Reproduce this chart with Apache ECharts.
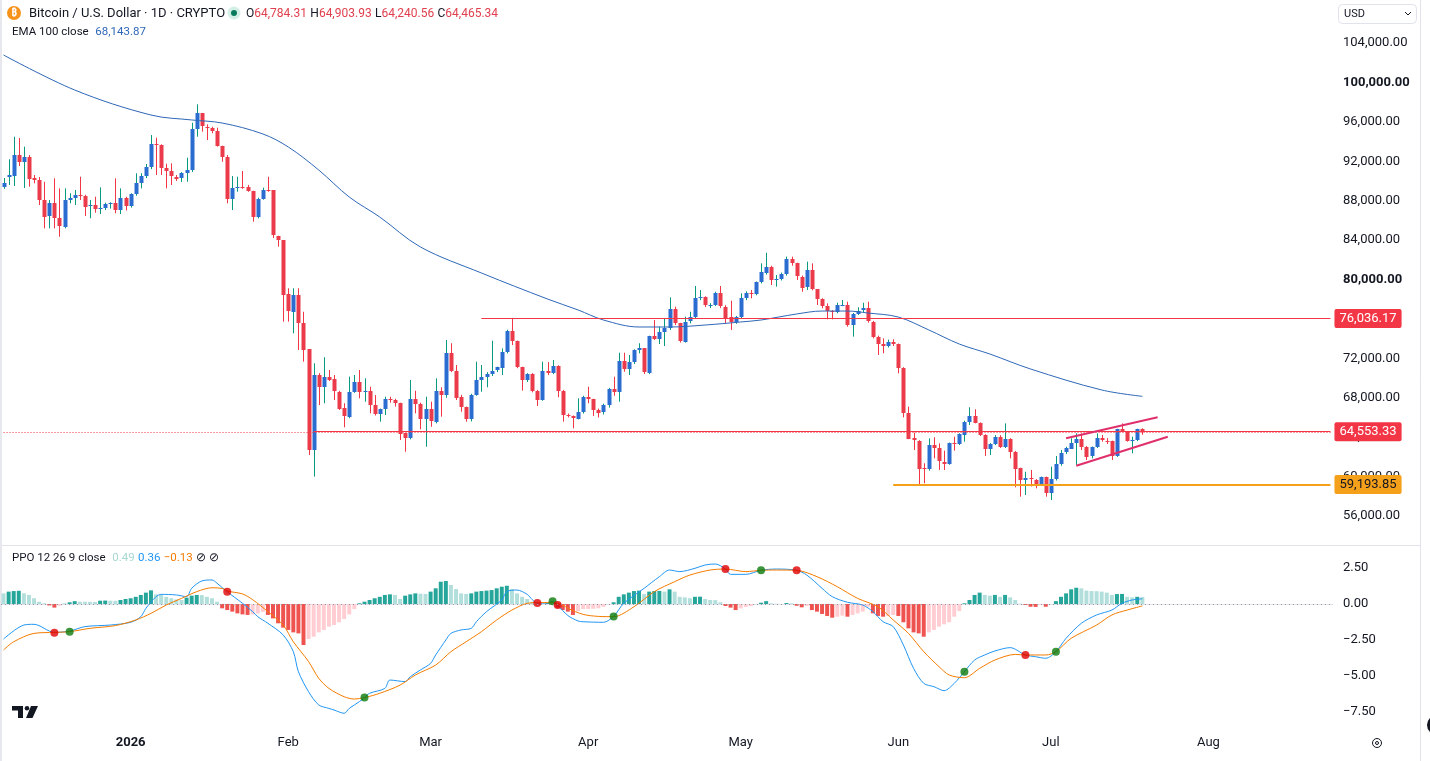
<!DOCTYPE html>
<html>
<head>
<meta charset="utf-8">
<title>BTCUSD 1D</title>
<script src="https://cdn.jsdelivr.net/npm/echarts@6/dist/echarts.min.js"></script>
<style>
  html, body { margin: 0; padding: 0; background: #fff; }
  #chart { width: 1430px; height: 761px; }
</style>
</head>
<body>
<div id="chart"></div>
<script>
// BTC/USD daily candles, 7 Dec 2025 .. 19 Jul 2026
const startDay = [2025, 11, 7]
const dayCount = 262 // candles + empty room to the right

// [open, high, low, close]
const ohlc = [
  [89400, 90300, 89200, 89800], [90370, 92200, 89590, 90600], [90500, 94490, 89490, 92630], [92630, 94360, 91520, 91950], [91950, 93480, 89290, 92460],
  [92460, 92630, 89420, 90270], [90270, 90600, 89760, 90100], [90100, 90400, 87560, 88070], [88070, 89920, 85190, 86370], [86370, 88070, 85190, 87730],
  [87730, 90270, 85190, 86210], [86210, 89250, 84340, 85360], [85360, 89250, 85190, 88070], [88070, 88750, 87730, 88300], [88300, 89080, 87560, 88570],
  [88570, 90430, 88070, 88500], [88500, 88600, 86440, 87390], [87390, 88070, 86210, 87530], [87530, 88400, 86780, 87120], [87120, 89350, 86640, 87250],
  [87250, 87800, 87050, 87660], [87660, 87840, 87200, 87800], [87800, 90270, 86720, 87050], [87050, 89250, 86640, 88240], [88240, 88400, 87000, 87460],
  [87460, 88750, 87300, 88640], [88640, 90780, 88500, 89760], [89760, 90780, 89250, 90500], [90500, 91720, 90300, 91390], [91390, 94660, 91200, 93720],
  [93720, 94390, 90600, 93600], [93600, 93720, 90600, 91280], [91280, 91750, 89250, 90980], [90980, 91790, 89590, 90430], [90430, 90600, 90000, 90270],
  [90270, 90900, 89900, 90780], [90780, 92360, 89920, 91110], [91110, 95910, 90900, 95240], [95240, 97780, 94490, 96870], [96870, 96870, 95000, 95510],
  [95510, 95750, 94150, 95400], [95400, 95500, 94840, 95070], [95070, 95400, 93480, 93580], [93580, 93580, 91950, 92460], [92460, 92630, 87730, 88240],
  [88240, 90500, 87050, 89320], [89320, 90430, 88910, 89420], [89420, 91010, 89200, 89400], [89400, 89600, 88900, 89010], [89010, 89010, 85870, 86370],
  [86370, 88300, 86200, 88170], [88170, 89320, 88100, 89080], [89080, 90430, 88900, 89050], [89050, 89050, 84200, 84440], [84440, 84440, 83330, 84010],
  [84010, 84010, 75720, 78430], [78500, 79110, 75720, 76730], [76730, 79110, 74540, 78430], [78430, 79110, 72840, 75550], [75550, 76730, 71660, 72840],
  [72940, 72940, 62190, 62700], [62700, 71500, 60000, 70310], [70310, 70500, 67260, 69120], [69120, 72110, 67440, 70140], [70140, 70820, 69700, 69870],
  [69870, 70310, 67770, 68610], [68610, 68700, 66760, 66930], [66930, 67440, 65000, 66080], [66080, 70140, 65920, 68610], [68610, 70310, 68500, 69630],
  [69630, 70820, 67940, 68610], [68610, 69970, 67600, 68700], [68700, 69120, 66420, 67260], [67260, 68270, 66200, 66320], [66320, 66900, 65570, 66830],
  [66830, 68110, 66250, 67840], [67840, 68100, 67500, 67800], [67800, 67900, 67100, 67500], [67500, 67500, 63710, 64390], [64390, 64390, 62520, 63880],
  [63880, 69800, 63780, 67840], [67840, 68710, 66420, 67330], [67330, 67500, 64800, 65810], [65810, 68110, 63030, 66830], [66830, 67600, 65060, 65570],
  [65570, 69970, 65400, 68720], [68720, 69060, 66080, 68270], [68270, 73860, 68000, 72570], [72570, 73530, 70600, 70740], [70740, 71320, 67770, 68050],
  [68050, 68300, 66580, 67030], [67030, 67100, 65570, 65810], [65810, 68400, 65600, 68270], [68270, 71660, 68200, 69800], [69800, 71320, 68610, 70070],
  [70070, 70600, 69060, 70410], [70410, 73790, 70210, 70740], [70740, 71150, 70600, 71090], [71090, 73010, 70310, 72670], [72670, 74900, 72500, 74770],
  [74770, 76036, 73350, 73790], [73790, 73800, 71000, 71150], [71150, 71150, 68720, 69800], [69800, 70500, 69600, 70410], [70410, 70500, 68550, 68720],
  [68720, 68800, 67160, 67770], [67770, 71660, 67700, 70710], [70710, 71620, 70300, 70480], [70480, 71830, 70400, 71220], [71220, 71300, 68050, 68720],
  [68720, 68800, 65570, 66250], [66250, 66400, 66000, 66150], [66150, 66200, 64900, 65920], [65920, 67940, 65800, 66580], [66580, 68200, 66400, 68110],
  [68110, 69120, 67440, 67870], [67870, 67900, 66150, 66760], [66760, 66900, 66000, 66500], [66500, 67400, 66300, 67260], [67260, 69000, 67000, 68890],
  [68890, 70140, 68200, 68610], [68610, 72570, 67600, 71760], [71760, 72570, 70640, 70920], [70920, 72340, 70310, 71600], [71600, 72920, 71420, 72840],
  [72840, 73530, 72510, 73000], [73000, 73010, 70410, 70540], [70540, 74300, 70400, 74270], [74270, 75890, 73860, 73960], [73960, 75210, 73450, 74640],
  [74640, 76060, 73250, 75050], [75050, 78190, 74880, 77010], [77010, 77240, 75380, 75550], [75550, 75600, 73600, 73690], [73690, 76230, 73600, 75720],
  [75720, 76730, 75550, 76160], [76160, 79340, 75990, 78090], [78090, 78930, 77900, 78190], [78190, 78300, 77200, 77340], [77340, 77600, 77100, 77400],
  [77400, 78760, 77300, 78600], [78600, 79340, 77100, 77240], [77240, 77400, 75550, 76160], [76160, 77850, 74880, 75620], [75620, 76300, 75500, 76160],
  [76160, 78600, 76000, 78090], [78090, 78800, 77900, 78600], [78600, 78930, 78090, 78500], [78500, 79800, 78400, 79720], [79720, 81640, 79600, 80730],
  [80730, 82720, 80500, 81300], [81300, 81400, 79440, 79950], [79950, 80460, 79270, 80020], [80020, 80700, 79900, 80560], [80560, 82320, 80400, 82080],
  [82080, 82320, 81400, 81640], [81640, 81700, 79950, 80290], [80290, 80400, 78760, 79210], [79210, 81810, 78930, 80960], [80960, 81640, 78900, 79000],
  [79000, 79000, 77410, 78020], [78020, 78100, 77080, 77340], [77340, 77580, 75960, 76800], [76800, 76900, 75960, 76700], [76700, 77640, 76570, 77410],
  [77410, 77920, 77300, 77450], [77450, 77750, 75210, 75380], [75380, 76600, 74200, 76500], [76500, 77180, 76400, 76830], [76830, 77640, 76700, 77080],
  [77080, 77750, 75620, 75720], [75720, 75800, 74030, 74200], [74200, 74300, 72340, 73450], [73450, 74030, 72510, 73250], [73250, 73900, 73100, 73690],
  [73690, 73930, 73250, 73450], [73450, 73500, 70480, 71000], [71000, 71100, 66010, 66480], [66480, 67100, 63800, 63880], [63880, 64460, 62700, 63640],
  [63640, 63700, 59040, 60840], [60840, 61350, 59320, 60740], [60740, 63880, 60600, 63210], [63210, 63990, 61850, 62870], [62870, 63370, 60670, 61510],
  [61510, 62630, 60670, 61280], [61280, 63450, 61200, 63370], [63370, 64050, 62630, 63300], [63300, 64400, 63200, 64290], [64290, 65670, 63540, 65570],
  [65570, 67030, 65230, 66150], [66150, 66830, 65400, 65470], [65470, 65500, 64120, 64220], [64220, 64300, 62090, 62770], [62770, 63400, 62190, 63310],
  [63310, 64200, 63200, 64050], [64050, 64200, 62900, 63030], [63030, 65400, 62900, 63810], [63810, 63900, 61850, 62520], [62520, 62600, 58910, 60840],
  [60840, 60900, 57960, 59580], [59580, 60490, 58130, 59820], [59820, 60670, 59000, 59700], [59700, 59750, 58810, 59320], [59320, 60000, 59200, 59990],
  [59990, 60000, 57960, 58360], [58360, 61010, 57630, 59750], [59750, 62090, 59600, 61280], [61280, 62700, 61100, 62420], [62420, 63030, 62300, 62870],
  [62870, 63880, 62800, 63440], [63440, 64390, 61180, 63810], [63810, 64390, 62700, 63030], [63030, 63100, 61680, 62020], [62020, 63050, 61850, 62970],
  [62970, 64390, 62900, 63880], [63880, 64220, 63540, 63640], [63640, 63900, 63300, 63600], [63600, 63650, 61680, 62090], [62090, 64850, 62000, 64800],
  [64800, 65400, 64500, 64560], [64560, 64600, 63540, 63640], [63640, 64050, 62360, 63700], [63700, 64850, 63600, 64780], [64784.31, 64903.93, 64240.56, 64465.34]
]

// EMA 100, sampled along the drawn curve: [day index, value]
const ema100 = [
  [0, 102780], [14, 99230], [29, 96690], [37, 96190], [43, 95880], [51, 94770], [56, 93450], [62, 91110],
  [68, 88370], [74, 86340], [82, 83300], [94, 80660], [107, 78020], [113, 76910], [118, 75890], [125, 75180],
  [131, 75180], [138, 75380], [145, 75690], [149, 75890], [156, 76500], [161, 76800], [166, 76800], [170, 76600],
  [176, 76190], [182, 74880], [188, 73450], [194, 72440], [202, 70920], [216, 68790], [224, 68143.87]
]

// PPO 12 26 9 histogram, one bar per candle
const ppoHist = [
  0.74, 0.86, 0.9, 0.92, 0.74, 0.63, 0.4, 0.16, 0.05, -0.1,
  -0.25, -0.12, 0.02, 0.12, 0.2, 0.16, 0.16, 0.15, 0.14, 0.23,
  0.24, 0.23, 0.22, 0.28, 0.35, 0.4, 0.5, 0.63, 0.79, 0.95,
  0.67, 0.63, 0.5, 0.4, 0.32, 0.28, 0.44, 0.58, 0.63, 0.62,
  0.5, 0.4, 0.16, -0.3, -0.42, -0.53, -0.65, -0.72, -0.76, -0.72,
  -0.65, -0.55, -0.76, -1.0, -1.34, -1.64, -1.8, -1.97, -2.04, -2.85,
  -2.43, -2.27, -1.97, -1.8, -1.57, -1.46, -1.27, -1.04, -0.72, -0.35,
  0.05, 0.16, 0.28, 0.4, 0.5, 0.63, 0.67, 0.63, 0.35, 0.58,
  0.67, 0.74, 0.72, 0.7, 0.86, 1.09, 1.55, 1.6, 1.32, 1.04,
  0.74, 0.7, 0.74, 0.86, 0.9, 0.93, 0.97, 1.09, 1.2, 1.27,
  1.04, 0.74, 0.5, 0.35, 0.16, 0.05, 0.01, 0.1, 0.02, -0.25,
  -0.42, -0.53, -0.76, -0.5, -0.35, -0.34, -0.33, -0.3, -0.19, 0.0,
  0.12, 0.5, 0.67, 0.79, 0.9, 0.93, 0.69, 0.86, 0.9, 0.91,
  0.86, 1.02, 0.86, 0.5, 0.46, 0.4, 0.5, 0.51, 0.35, 0.28,
  0.27, 0.12, -0.14, -0.25, -0.42, -0.3, -0.2, -0.14, 0.0, 0.09,
  0.2, 0.05, 0.02, 0.0, 0.07, 0.05, -0.12, -0.23, -0.14, -0.42,
  -0.53, -0.69, -0.83, -0.95, -0.88, -0.81, -0.88, -0.76, -0.65, -0.53,
  -0.19, -0.65, -0.83, -0.88, -0.83, -0.76, -0.83, -1.27, -1.69, -1.97,
  -2.04, -2.27, -1.97, -1.8, -1.57, -1.41, -1.27, -0.88, -0.49, 0.05,
  0.28, 0.63, 0.79, 0.63, 0.58, 0.63, 0.5, 0.63, 0.46, 0.28,
  0.02, -0.07, -0.19, -0.2, -0.07, -0.19, 0.0, 0.2, 0.5, 0.74,
  1.02, 1.13, 1.09, 0.93, 0.9, 0.89, 0.86, 0.79, 0.63, 0.69,
  0.7, 0.5, 0.46, 0.5, 0.49
]

// PPO line and signal line, sampled: [day index, value]
const ppoLine = [
  [0, -2.43], [4, -1.46], [6, -1.41], [10, -1.97], [13, -1.88], [16, -1.57], [21, -1.46], [25, -1.27],
  [27, -0.88], [28, -0.3], [30, 0.51], [31, 0.67], [34, 0.63], [36, 0.51], [37, 1.09], [39, 1.6],
  [41, 1.67], [42, 1.44], [44, 0.85], [47, 0.05], [49, -0.53], [50, -0.88], [52, -1.34], [55, -2.15],
  [57, -3.31], [58, -4.7], [60, -6.09], [62, -7.01], [64, -7.25], [65, -7.36], [67, -7.59], [68, -7.25],
  [70, -6.78], [71, -6.5], [72, -6.2], [75, -5.86], [76, -5.28], [79, -5.39], [80, -5.05], [82, -4.58],
  [84, -4.12], [85, -3.54], [87, -2.5], [88, -2.04], [90, -1.8], [92, -1.69], [93, -1.23], [95, -0.53],
  [98, 0.28], [99, 0.86], [101, 0.97], [103, 0.67], [104, 0.3], [105, 0.05], [107, 0.08], [108, 0.18],
  [109, -0.1], [111, -0.8], [113, -1.18], [114, -1.23], [118, -1.27], [120, -0.86], [122, 0.05], [126, 1.09],
  [129, 1.9], [131, 2.36], [133, 2.25], [136, 2.48], [138, 2.71], [140, 2.78], [142, 2.43], [143, 2.06],
  [146, 2.06], [149, 2.34], [152, 2.43], [156, 2.34], [158, 2.01], [161, 1.09], [163, 0.51], [166, 0.12],
  [169, -0.07], [171, -0.53], [173, -1.23], [175, -1.57], [177, -2.85], [179, -4.47], [181, -5.51], [183, -5.74],
  [185, -6.02], [187, -5.51], [189, -4.7], [191, -3.89], [193, -3.54], [195, -3.26], [198, -3.03], [201, -3.54],
  [203, -3.66], [205, -3.77], [207, -3.31], [209, -2.38], [212, -1.34], [215, -0.76], [218, -0.42], [220, 0.05],
  [222, 0.28], [224, 0.36]
]
const signalLine = [
  [0, -3.19], [2, -2.62], [6, -2.04], [10, -1.97], [13, -1.92], [17, -1.69], [22, -1.5], [26, -1.11],
  [29, -0.65], [32, -0.07], [35, 0.39], [38, 0.86], [41, 1.13], [43, 1.08], [44, 0.9], [47, 0.7],
  [49, 0.3], [52, -0.53], [55, -1.46], [57, -2.62], [60, -4.0], [62, -5.16], [64, -5.86], [67, -6.44],
  [69, -6.6], [71, -6.5], [74, -6.2], [78, -5.63], [81, -4.93], [85, -4.24], [88, -3.31], [91, -2.62],
  [94, -1.92], [97, -1.11], [100, -0.42], [103, 0.05], [105, 0.1], [108, 0.1], [110, -0.07], [111, -0.3],
  [114, -0.72], [117, -0.86], [120, -0.88], [124, -0.19], [128, 0.86], [132, 1.55], [135, 2.01], [139, 2.36],
  [142, 2.43], [146, 2.25], [149, 2.34], [152, 2.36], [156, 2.34], [160, 1.9], [164, 1.2], [168, 0.39],
  [172, -0.19], [175, -1.11], [178, -2.04], [181, -3.31], [184, -4.35], [186, -4.93], [189, -5.12], [192, -4.47],
  [195, -3.89], [199, -3.5], [201, -3.54], [205, -3.54], [207, -3.31], [210, -2.38], [215, -1.46], [218, -0.76],
  [221, -0.42], [224, -0.13]
]
// crossover dots
const crossUp = [[13, -1.92], [71, -6.5], [108, 0.2], [120, -0.86], [149, 2.34], [189, -4.7], [207, -3.31]]
const crossDown = [[10, -1.99], [44, 0.85], [105, 0.07], [109, -0.07], [142, 2.43], [156, 2.34], [201, -3.54]]

// drawn levels
const resistance = { value: 76036.17, from: 94 }
const support = { value: 64553.33, from: 61 }
const floorLevel = { value: 59193.85, from: 175 }
const wedgeUpper = [[209, 63890], [227, 66020]]
const wedgeLower = [[211, 61100], [229, 64050]]

const boldPrices = [100000, 80000]
const ppoTicks = [2.5, 0, -2.5, -5, -7.5]
const monthAbbr = ['Jan', 'Feb', 'Mar', 'Apr', 'May', 'Jun', 'Jul', 'Aug', 'Sep', 'Oct', 'Nov', 'Dec']

const days = []
for (let i = 0; i < dayCount; i++) {
  const d = new Date(Date.UTC(startDay[0], startDay[1], startDay[2] + i))
  days.push(d.toISOString().slice(0, 10))
}

const FONT = 'Roboto, "Noto Sans", sans-serif'
const TXT = '#131722'
const upBody = '#2B6CD0'
const downBody = '#EB3B4B'
const upWick = '#089981'
const downWick = '#F23645'

const fmt = (v) => v.toLocaleString('en-US', { minimumFractionDigits: 2, maximumFractionDigits: 2 })
const fmtPpo = (v) => (v < 0 ? '\u2212' : '') + Math.abs(v).toFixed(2)
const last = ohlc[ohlc.length - 1]

function renderCandle(params, api) {
  const i = api.value(0)
  const o = api.value(1), h = api.value(2), l = api.value(3), c = api.value(4)
  const pO = api.coord([i, o]), pC = api.coord([i, c])
  const pH = api.coord([i, h]), pL = api.coord([i, l])
  const cx = Math.round(pO[0])
  const up = c >= o
  const top = Math.round(Math.min(pO[1], pC[1]))
  const hgt = Math.max(Math.round(Math.abs(pO[1] - pC[1])), 1)
  return {
    type: 'group',
    children: [
      { type: 'line', shape: { x1: cx + 0.5, y1: pH[1], x2: cx + 0.5, y2: pL[1] }, style: { stroke: up ? upWick : downWick, lineWidth: 1 } },
      { type: 'rect', shape: { x: cx - 1.5, y: top, width: 4, height: hgt }, style: { fill: up ? upBody : downBody } },
    ],
  }
}

function histColor(p) {
  const i = p.dataIndex
  const v = ppoHist[i]
  const prev = i > 0 ? ppoHist[i - 1] : v
  if (v >= 0) return v > prev ? '#26A69A' : '#B2DFDB'
  return v < prev ? '#EF5350' : '#FFCDD2'
}

function levelLine(level, color, textColor, width) {
  return [
    {
      coord: [level.from, level.value],
      lineStyle: { color, width, type: 'solid' },
      label: {
        show: true, position: 'end', distance: 4, formatter: fmt(level.value),
        color: textColor, backgroundColor: color, padding: [2, 5, 2, 5],
        fontSize: 13, fontFamily: FONT, lineHeight: 15, borderRadius: 2,
      },
    },
    { coord: [dayCount - 1, level.value] },
  ]
}

const dateLabel = {
  interval: (idx, v) => v.endsWith('-01'),
  formatter: (v) => {
    const m = +v.slice(5, 7)
    return m === 1 ? '{b|' + v.slice(0, 4) + '}' : monthAbbr[m - 1]
  },
  color: TXT, fontSize: 13, fontFamily: FONT, margin: 6,
  rich: { b: { fontWeight: 'bold', fontSize: 13, fontFamily: FONT, color: TXT } },
}

const chart = echarts.init(document.getElementById('chart'), null, { renderer: 'canvas' })

chart.setOption({
  animation: false,
  backgroundColor: '#fff',
  grid: [
    { left: 1, right: 97, top: 43, height: 473 },
    { left: 1, right: 97, top: 548, bottom: 31 },
  ],
  xAxis: [
    { type: 'category', gridIndex: 0, data: days, show: false },
    {
      type: 'category', gridIndex: 1, data: days,
      axisLine: { show: true, lineStyle: { color: '#E0E3EB' } },
      axisTick: { show: false }, axisLabel: dateLabel,
    },
  ],
  yAxis: [
    {
      type: 'value', gridIndex: 0, position: 'right', min: 56000, max: 104000, interval: 4000,
      axisLine: { show: false }, axisTick: { show: false }, splitLine: { show: false },
      axisLabel: {
        margin: 10, color: TXT, fontSize: 13, fontFamily: FONT,
        formatter: (v) => (boldPrices.includes(v) ? '{b|' + fmt(v) + '}' : fmt(v)),
        rich: { b: { fontWeight: 'bold', fontSize: 13, fontFamily: FONT, color: TXT } },
      },
    },
    {
      type: 'value', gridIndex: 1, position: 'right', min: -8.75, max: 3.89,
      axisLine: { show: false }, axisTick: { show: false }, splitLine: { show: false },
      axisLabel: { margin: 10, color: TXT, fontSize: 13, fontFamily: FONT, customValues: ppoTicks, formatter: fmtPpo },
    },
  ],
  series: [
    {
      name: 'BTCUSD', type: 'custom', xAxisIndex: 0, yAxisIndex: 0,
      renderItem: renderCandle,
      encode: { x: 0, y: [1, 2, 3, 4] },
      data: ohlc.map((r, i) => [i, r[0], r[1], r[2], r[3]]),
      z: 2,
    },
    {
      name: 'EMA 100', type: 'line', xAxisIndex: 0, yAxisIndex: 0,
      data: ema100, smooth: 0.35, showSymbol: false, z: 3,
      lineStyle: { color: '#2F67B8', width: 1 },
      markLine: {
        silent: true, symbol: ['none', 'none'], animation: false,
        lineStyle: { type: 'solid' }, label: { show: false },
        data: [
          [
            { coord: [0, last[3]], lineStyle: { color: '#F23645', width: 1, type: [1, 2] } },
            { coord: [dayCount - 1, last[3]] },
          ],
          levelLine(resistance, '#F23645', '#fff', 1),
          levelLine(support, '#F23645', '#fff', 1),
          levelLine(floorLevel, '#F5A01A', TXT, 2),
          [{ coord: wedgeUpper[0], lineStyle: { color: '#E0306C', width: 2 } }, { coord: wedgeUpper[1] }],
          [{ coord: wedgeLower[0], lineStyle: { color: '#E0306C', width: 2 } }, { coord: wedgeLower[1] }],
        ],
      },
    },
    {
      name: 'Histogram', type: 'bar', xAxisIndex: 1, yAxisIndex: 1,
      data: ppoHist, barWidth: '78%', itemStyle: { color: histColor },
      markLine: {
        silent: true, symbol: ['none', 'none'], animation: false, label: { show: false },
        lineStyle: { color: '#9598A1', type: [1, 3], width: 1 },
        data: [{ yAxis: 0 }],
      },
    },
    {
      name: 'PPO', type: 'line', xAxisIndex: 1, yAxisIndex: 1, data: ppoLine,
      smooth: 0.3, showSymbol: false, lineStyle: { color: '#2196F3', width: 1 }, z: 3,
    },
    {
      name: 'Signal', type: 'line', xAxisIndex: 1, yAxisIndex: 1, data: signalLine,
      smooth: 0.3, showSymbol: false, lineStyle: { color: '#F57C00', width: 1 }, z: 3,
    },
    {
      name: 'Cross up', type: 'scatter', xAxisIndex: 1, yAxisIndex: 1, data: crossUp,
      symbolSize: 8, itemStyle: { color: '#0B7A0B' }, z: 4,
    },
    {
      name: 'Cross down', type: 'scatter', xAxisIndex: 1, yAxisIndex: 1, data: crossDown,
      symbolSize: 8, itemStyle: { color: '#E00000' }, z: 4,
    },
  ],
  graphic: [
    // frame
    { type: 'line', shape: { x1: 0, y1: 545.5, x2: 1420, y2: 545.5 }, style: { stroke: '#E0E3EB', lineWidth: 1 } },
    { type: 'line', shape: { x1: 1420.5, y1: 0, x2: 1420.5, y2: 761 }, style: { stroke: '#E0E3EB', lineWidth: 1 } },
    { type: 'line', shape: { x1: 1, y1: 0, x2: 1, y2: 761 }, style: { stroke: '#E6E8EE', lineWidth: 2 } },
    // header
    { type: 'circle', shape: { cx: 14, cy: 13, r: 7 }, style: { fill: '#F7931A' } },
    { type: 'text', style: { text: '\u20bf', x: 14, y: 13.5, fill: '#fff', font: 'bold 10px ' + FONT, align: 'center', verticalAlign: 'middle' } },
    { type: 'text', style: { text: 'Bitcoin / U.S. Dollar \u00b7 1D \u00b7 CRYPTO', x: 29, y: 13.5, fill: TXT, font: '13px ' + FONT, verticalAlign: 'middle' } },
    { type: 'circle', shape: { cx: 234, cy: 13, r: 6.5 }, style: { fill: '#D3EFE6' } },
    { type: 'circle', shape: { cx: 234, cy: 13, r: 3 }, style: { fill: '#0A7A5C' } },
    {
      type: 'text',
      style: {
        x: 246, y: 13.5, verticalAlign: 'middle',
        text: '{k|O}{v|' + fmt(last[0]) + '} {k|H}{v|' + fmt(last[1]) + '} {k|L}{v|' + fmt(last[2]) + '} {k|C}{v|' + fmt(last[3]) + '}',
        rich: {
          k: { fill: TXT, fontSize: 12, fontFamily: FONT },
          v: { fill: '#E0404E', fontSize: 12, fontFamily: FONT },
        },
      },
    },
    {
      type: 'text',
      style: {
        x: 12, y: 32.5, verticalAlign: 'middle',
        text: '{k|EMA 100 close}  {v|' + fmt(ema100[ema100.length - 1][1]) + '}',
        rich: {
          k: { fill: TXT, fontSize: 11.5, fontFamily: FONT },
          v: { fill: '#2F67B8', fontSize: 11.5, fontFamily: FONT },
        },
      },
    },
    {
      type: 'text',
      style: {
        x: 12, y: 558.5, verticalAlign: 'middle',
        text: '{k|PPO 12 26 9 close}  {h|' + fmtPpo(ppoHist[ppoHist.length - 1]) + '} {p|' + fmtPpo(ppoLine[ppoLine.length - 1][1]) +
          '} {s|' + fmtPpo(signalLine[signalLine.length - 1][1]) + '} {k|\u2298 \u2298}',
        rich: {
          k: { fill: TXT, fontSize: 11.5, fontFamily: FONT },
          h: { fill: '#A7D8D2', fontSize: 11.5, fontFamily: FONT },
          p: { fill: '#2196F3', fontSize: 11.5, fontFamily: FONT },
          s: { fill: '#F57C00', fontSize: 11.5, fontFamily: FONT },
        },
      },
    },
    // currency box
    { type: 'rect', shape: { x: 1338.5, y: 4.5, width: 78, height: 19, r: 4 }, style: { fill: '#fff', stroke: '#E0E3EB' } },
    { type: 'text', style: { text: 'USD', x: 1344, y: 14.5, fill: TXT, font: '11px ' + FONT, verticalAlign: 'middle' } },
    { type: 'polyline', shape: { points: [[1405, 12], [1408, 15], [1411, 12]] }, style: { stroke: TXT, lineWidth: 1, fill: null } },
    // logo
    { type: 'polygon', shape: { points: [[12, 706], [23, 706], [23, 718], [18, 718], [18, 710.5], [12, 710.5]] }, style: { fill: TXT } },
    { type: 'circle', shape: { cx: 27, cy: 708.3, r: 2.3 }, style: { fill: TXT } },
    { type: 'polygon', shape: { points: [[31, 706], [38, 706], [32.5, 718], [26, 718]] }, style: { fill: TXT } },
    // settings icon + floating button
    { type: 'circle', shape: { cx: 1377, cy: 743, r: 4.5 }, style: { fill: null, stroke: TXT, lineWidth: 1 } },
    { type: 'circle', shape: { cx: 1377, cy: 743, r: 1.5 }, style: { fill: null, stroke: TXT, lineWidth: 1 } },
    { type: 'circle', shape: { cx: 1437, cy: 725, r: 10 }, style: { fill: '#131722' } },
  ],
})
</script>
</body>
</html>
